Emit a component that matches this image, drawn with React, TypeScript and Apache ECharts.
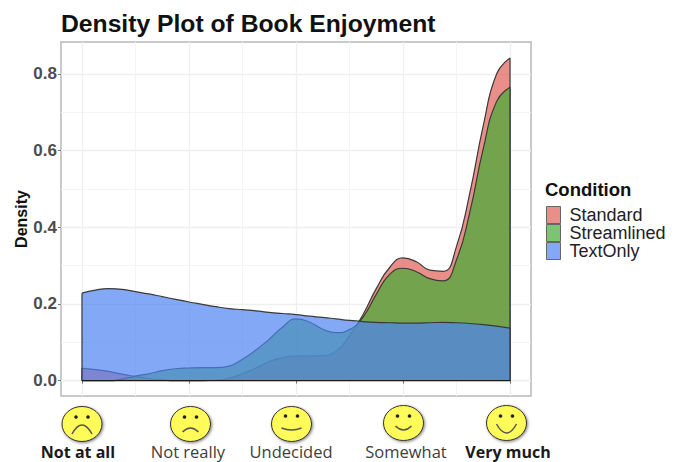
import React, { useEffect, useRef } from "react";
import * as echarts from "echarts";

const xs = [1,1.125,1.25,1.375,1.5,1.625,1.75,1.875,2,2.125,2.25,2.375,2.5,2.625,2.75,2.875,3,3.125,3.25,3.375,3.5,3.625,3.75,3.875,4,4.125,4.25,4.375,4.5,4.625,4.75,4.875,5];
const standard = [.032,.029,.024,.017,.011,.005,.002,0,0,0,.001,.006,.018,.033,.05,.06,.064,.064,.065,.077,.117,.172,.24,.295,.32,.31,.288,.285,.35,.49,.665,.80,.841];
const streamlined = [0,0,0,.004,.012,.018,.026,.031,.033,.034,.034,.038,.056,.08,.108,.14,.161,.153,.134,.125,.133,.165,.225,.277,.293,.284,.266,.26,.315,.44,.605,.728,.765];
const textOnly = [.228,.236,.24,.238,.232,.226,.219,.212,.205,.199,.193,.188,.185,.182,.178,.175,.172,.168,.165,.161,.157,.154,.152,.151,.15,.15,.151,.152,.151,.149,.146,.142,.137];
const seriesNames = ["Standard", "Streamlined", "TextOnly"];
const xTicks = [1, 2, 3, 4, 5];
const xMinor = [1.5, 2.5, 3.5, 4.5];
const xLabels = ["Not at all", "Not really", "Undecided", "Somewhat", "Very much"];
const yTicks = [0, 0.2, 0.4, 0.6, 0.8];
const yMinor = [0.1, 0.3, 0.5, 0.7];

const fills = ["rgba(224,94,86,0.7)", "rgba(64,172,52,0.7)", "rgba(79,131,242,0.7)"];
const keyFills = ["#E98E89", "#79C571", "#84A8F6"];
const GRID = "#efefef";
const OUTLINE = "#3a3a3a";

const points = (ys: number[]) => xs.map((x, i) => [x, ys[i]]);

const faces = [
  { cx: 82, cy: 424, ex: 6, ey: -7, m: [-10, 10, 0, -8, 10, 10] },
  { cx: 190.5, cy: 424, ex: 6, ey: -7, m: [-8, 8, 0, 0, 8, 8] },
  { cx: 291.5, cy: 424, ex: 6, ey: -8, m: [-10, 4, 0, 8, 10, 4] },
  { cx: 403.5, cy: 423, ex: 6, ey: -7, m: [-8, 3, 0, 11, 8, 3] },
  { cx: 506.5, cy: 423, ex: 6, ey: -7, m: [-10, 1, 0, 19, 10, 1] },
];

const faceGraphics = faces.flatMap((f) => [
  { type: "ellipse", shape: { cx: f.cx, cy: f.cy, rx: 20, ry: 17.5 }, style: { fill: "#FFFB58", stroke: "#333", lineWidth: 1, shadowBlur: 3, shadowColor: "rgba(0,0,0,0.5)", shadowOffsetX: 1, shadowOffsetY: 1 } },
  { type: "circle", shape: { cx: f.cx - f.ex, cy: f.cy + f.ey, r: 1.8 }, style: { fill: "#222" } },
  { type: "circle", shape: { cx: f.cx + f.ex, cy: f.cy + f.ey, r: 1.8 }, style: { fill: "#222" } },
  { type: "bezierCurve", shape: { x1: f.cx + f.m[0], y1: f.cy + f.m[1], cpx1: f.cx + f.m[2], cpy1: f.cy + f.m[3], x2: f.cx + f.m[4], y2: f.cy + f.m[5] }, style: { stroke: "#555", lineWidth: 1.5, fill: "none" } },
]);

const boldLabel = { fontFamily: "Open Sans", fontSize: 16, fontWeight: "bold", color: "#1a1a1a", lineHeight: 17 };
const plainLabel = { fontFamily: "Open Sans", fontSize: 16.5, color: "#404040", lineHeight: 17 };

export default function App() {
  const ref = useRef<HTMLDivElement>(null);
  useEffect(() => {
    document.body.style.margin = "0";
    const chart = echarts.init(ref.current!, null, { renderer: "svg" });
    const hidden = { axisLine: { show: false }, axisTick: { show: false }, axisLabel: { show: false } };
    const makeSeries = (name: string, ys: number[], i: number) => ({
      name, type: "line", data: points(ys), smooth: 0.5, showSymbol: false, symbol: "none",
      lineStyle: { color: OUTLINE, width: 1.2 },
      itemStyle: { color: keyFills[i] },
      areaStyle: { color: fills[i], opacity: 1 }, z: 3 + i,
    });
    const makeEdge = (ys: number[], index: number, i: number) => ({
      type: "line", data: [[xs[index], 0], [xs[index], ys[index]]], showSymbol: false, symbol: "none",
      lineStyle: { color: OUTLINE, width: 1.2 }, z: 3 + i, silent: true,
    });
    const all = [standard, streamlined, textOnly];
    chart.setOption({
      animation: false,
      title: { text: "Density Plot of Book Enjoyment", left: 61, top: 11, padding: 0, textStyle: { fontFamily: "Liberation Sans", fontWeight: "bold", fontSize: 24.7, color: "#111" } },
      grid: { left: 61, top: 42, width: 470, height: 354, show: true, borderColor: "#b8b8b8", borderWidth: 1.5, backgroundColor: "#fff", outerBoundsMode: "none" },
      legend: {
        orient: "vertical", left: 546, top: 206, itemWidth: 14, itemHeight: 17, itemGap: 0, padding: 0, selectedMode: false,
        textStyle: { fontFamily: "Liberation Sans", fontSize: 18, color: "#222", padding: [0, 0, 0, 4] },
        data: seriesNames.map((name, i) => ({ name, icon: "rect", itemStyle: { color: keyFills[i], borderColor: "#666", borderWidth: 1 } })),
      },
      xAxis: [
        {
          type: "value", min: 0.804, max: 5.196,
          axisLine: { show: false },
          axisTick: { show: true, length: 3, customValues: xTicks, lineStyle: { color: "#777" } },
          splitLine: { show: true, lineStyle: { color: GRID, width: 1.3 } },
          axisLabel: {
            customValues: xTicks, margin: 47, hideOverlap: false,
            formatter: (v: number) => {
              const i = xTicks.indexOf(v);
              const bold = i === 0 || i === 4;
              return `{${bold ? "b" : "r"}${i}|${xLabels[i]}}`;
            },
            rich: {
              b0: { ...boldLabel, padding: [0, 8, 0, 0] },
              r1: { ...plainLabel, padding: [0, 2, 0, 0] },
              r2: { ...plainLabel, padding: [0, 10, 0, 0] },
              r3: { ...plainLabel, padding: [0, 0, 0, 6] },
              b4: { ...boldLabel, padding: [0, 4, 0, 0] },
            },
          },
        },
        { type: "value", min: 0.804, max: 5.196, ...hidden, axisTick: { show: false, customValues: xMinor }, axisLabel: { show: false, customValues: xMinor }, splitLine: { show: true, lineStyle: { color: "#f4f4f4", width: 1 } } },
      ],
      yAxis: [
        {
          type: "value", min: -0.04, max: 0.8828,
          name: "Density", nameLocation: "middle", nameGap: 32, nameMoveOverlap: false,
          nameTextStyle: { fontFamily: "Liberation Sans", fontWeight: "bold", fontSize: 16, color: "#111" },
          axisLine: { show: false },
          axisTick: { show: true, length: 3, customValues: yTicks, lineStyle: { color: "#777" } },
          splitLine: { show: true, lineStyle: { color: GRID, width: 1.3 } },
          axisLabel: { customValues: yTicks, margin: 4, formatter: (v: number) => v.toFixed(1), fontFamily: "Liberation Sans", fontWeight: "bold", fontSize: 17, color: "#4d4d4d" },
        },
        { type: "value", min: -0.04, max: 0.8828, ...hidden, axisTick: { show: false, customValues: yMinor }, axisLabel: { show: false, customValues: yMinor }, splitLine: { show: true, lineStyle: { color: "#f4f4f4", width: 1 } } },
      ],
      series: [
        ...all.map((ys, i) => makeSeries(seriesNames[i], ys, i)),
        ...all.flatMap((ys, i) => [makeEdge(ys, 0, i), makeEdge(ys, xs.length - 1, i)]),
        { type: "line", data: [[1, 0], [5, 0]], showSymbol: false, symbol: "none", lineStyle: { color: "#1a1a1a", width: 1.2 }, z: 6, silent: true },
      ],
      graphic: [
        { type: "text", left: 545, top: 180, style: { text: "Condition", fontFamily: "Liberation Sans", fontWeight: "bold", fontSize: 18.5, fill: "#111" } },
        ...faceGraphics,
      ],
    });
    return () => chart.dispose();
  }, []);
  return <div ref={ref} style={{ width: 685, height: 462 }} />;
}
